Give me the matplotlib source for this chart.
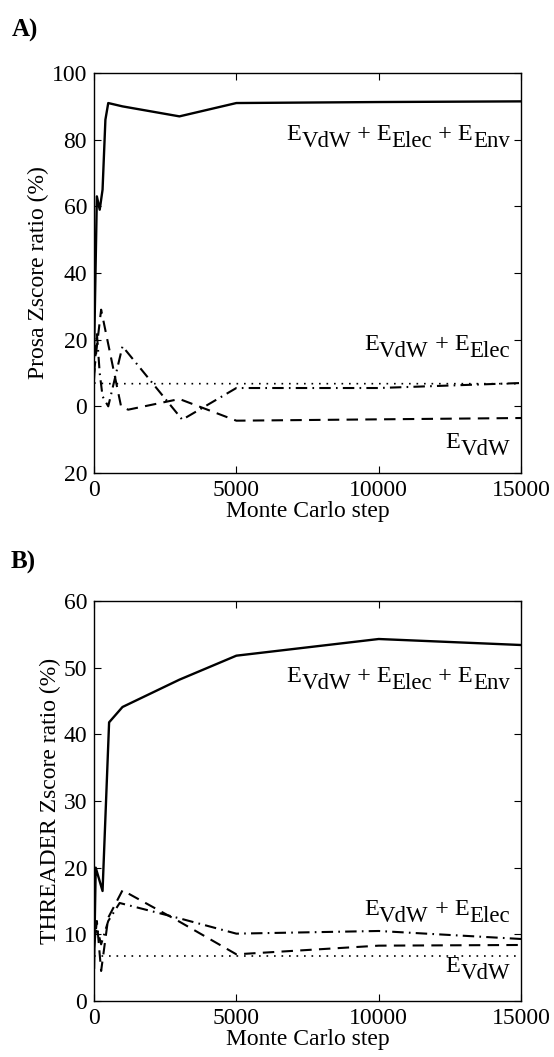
import matplotlib
matplotlib.use('Agg')
import matplotlib.pyplot as plt

plt.rcParams['font.family'] = ['Liberation Serif', 'DejaVu Serif']

# ---- panel A: Prosa Zscore ratio ----
a_full_x = [0, 100, 200, 300, 400, 500, 1000, 3000, 5000, 10000, 15000]
a_full_y = [15, 63, 59, 65, 86, 91, 90, 87, 91, 91.3, 91.5]

a_elec_x = [0, 100, 200, 300, 500, 1000, 3100, 5000, 10000, 15000]
a_elec_y = [8, 22, 10, 3, 0, 18, -4, 5.5, 5.5, 7]

a_vdw_x = [0, 100, 250, 950, 1200, 3000, 5000, 10000, 15000]
a_vdw_y = [10, 18, 29, 0, -1, 2.2, -4.3, -3.9, -3.5]

a_dot_x = [0, 500, 1000, 3000, 5000, 10000, 15000]
a_dot_y = [7, 6.8, 6.8, 6.8, 6.8, 6.8, 6.8]

a_yticks = [-20, 0, 20, 40, 60, 80, 100]
a_yticklabels = ['20', '0', '20', '40', '60', '80', '100']

# ---- panel B: THREADER Zscore ratio ----
b_full_x = [0, 60, 300, 530, 1000, 3000, 5000, 10000, 15000]
b_full_y = [5, 20, 16.5, 41.8, 44.1, 48.2, 51.8, 54.3, 53.4]

b_elec_x = [0, 100, 250, 500, 900, 3000, 5000, 10000, 15000]
b_elec_y = [9, 11, 8.5, 12, 14.7, 12.4, 10.1, 10.5, 9.3]

b_vdw_x = [0, 100, 250, 500, 1000, 3000, 5000, 10000, 15000]
b_vdw_y = [8, 12, 4.5, 12.5, 16.6, 11.9, 7.0, 8.3, 8.4]

b_dot_x = [0, 1000, 5000, 10000, 15000]
b_dot_y = [6.7, 6.7, 6.7, 6.7, 6.7]

b_yticks = [0, 10, 20, 30, 40, 50, 60]
b_yticklabels = ['0', '10', '20', '30', '40', '50', '60']

xticks = [0, 5000, 10000, 15000]

# curve labels as (text, is_subscript) pieces
lab_full = [('E', False), ('VdW', True), (' + E', False), ('Elec', True),
            (' + E', False), ('Env', True)]
lab_elec = [('E', False), ('VdW', True), (' + E', False), ('Elec', True)]
lab_vdw = [('E', False), ('VdW', True)]

fig = plt.figure(figsize=(5.54, 10.57), dpi=100)
ax_a = fig.add_axes([0.1697, 0.5525, 0.7708, 0.3784])
ax_b = fig.add_axes([0.1697, 0.0530, 0.7708, 0.3784])


def draw(ax, full, elec, vdw, dot):
    ax.plot(*full, color='black', lw=1.7)
    ln, = ax.plot(*elec, color='black', lw=1.5)
    ln.set_dashes([5.5, 2.5, 0.8, 2.5])
    ln, = ax.plot(*vdw, color='black', lw=1.5)
    ln.set_dashes([5.5, 3.5])
    ln, = ax.plot(*dot, color='black', lw=1.2)
    ln.set_dashes([1, 3.5])


def style(ax, yticks, ylabels, ylim, ylabel):
    ax.set_xlim(0, 15000)
    ax.set_ylim(*ylim)
    ax.set_xticks(xticks)
    ax.set_yticks(yticks)
    ax.set_yticklabels(ylabels)
    ax.tick_params(direction='in', top=True, right=True, length=5,
                   width=0.8, labelsize=17, pad=5)
    for s in ax.spines.values():
        s.set_linewidth(1.0)
    ax.set_xlabel('Monte Carlo step', fontsize=17, labelpad=0)
    ax.set_ylabel(ylabel, fontsize=17, labelpad=2)


def energy_label(ax, y, parts, size=17.5, sub_size=16.5, drop=5):
    # chain the pieces right to left so the label ends at a fixed x
    prev, prev_off = None, 0
    for txt, sub in reversed(parts):
        off = -drop if sub else 0
        fs = sub_size if sub else size
        if prev is None:
            prev = ax.annotate(txt, xy=(0.974, y), xycoords=ax.get_yaxis_transform(),
                               xytext=(0, off), textcoords='offset points',
                               ha='right', va='baseline', fontsize=fs)
        else:
            prev = ax.annotate(txt, xy=(0, 0), xycoords=prev,
                               xytext=(0, off - prev_off), textcoords='offset points',
                               ha='right', va='bottom', fontsize=fs)
        prev_off = off


draw(ax_a, (a_full_x, a_full_y), (a_elec_x, a_elec_y),
     (a_vdw_x, a_vdw_y), (a_dot_x, a_dot_y))
style(ax_a, a_yticks, a_yticklabels, (-20, 100), 'Prosa Zscore ratio (%)')
energy_label(ax_a, 79.9, lab_full)
energy_label(ax_a, 16.9, lab_elec)
energy_label(ax_a, -12.5, lab_vdw)

draw(ax_b, (b_full_x, b_full_y), (b_elec_x, b_elec_y),
     (b_vdw_x, b_vdw_y), (b_dot_x, b_dot_y))
style(ax_b, b_yticks, b_yticklabels, (0, 60), 'THREADER Zscore ratio (%)')
energy_label(ax_b, 47.85, lab_full)
energy_label(ax_b, 12.9, lab_elec)
energy_label(ax_b, 4.35, lab_vdw)

fig.text(12 / 554, 1 - 30 / 1057, 'A)', fontsize=18, fontweight='bold', va='center')
fig.text(11 / 554, 1 - 562 / 1057, 'B)', fontsize=18, fontweight='bold', va='center')

fig.savefig('out.png', dpi=100)
